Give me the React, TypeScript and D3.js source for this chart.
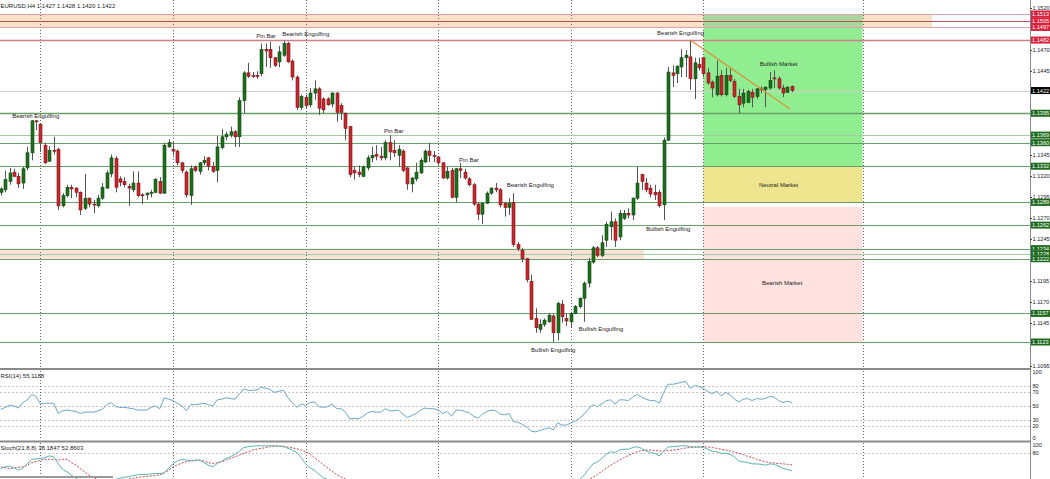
import React from "react";
import * as d3 from "d3";

const W = 1050;
const H = 479;

// ---- OHLC (EURUSD H4), bar 1..180 ----
const opens = [
  1.1301, 1.1304, 1.1314, 1.1325, 1.132, 1.1312, 1.133, 1.1348, 1.1386, 1.1382,
  1.1357, 1.1338, 1.1351, 1.1352, 1.1285, 1.1297, 1.1307, 1.1306, 1.1301, 1.1282,
  1.1294, 1.1287, 1.1285, 1.1294, 1.1306, 1.1323, 1.1341, 1.1317, 1.1314, 1.1308,
  1.1304, 1.1312, 1.1298, 1.1298, 1.13, 1.1301, 1.1314, 1.13, 1.1355, 1.1352,
  1.135, 1.1336, 1.1325, 1.1297, 1.1331, 1.1326, 1.1336, 1.1342, 1.1332, 1.1327,
  1.1354, 1.1367, 1.1369, 1.1373, 1.1367, 1.141, 1.1443, 1.144, 1.144, 1.1442,
  1.1471, 1.1471, 1.1461, 1.1456, 1.1464, 1.1478, 1.1457, 1.1438, 1.1402, 1.1414,
  1.1405, 1.1419, 1.1424, 1.1412, 1.1412, 1.1406, 1.1419, 1.1404, 1.1395, 1.1379,
  1.1327, 1.1325, 1.132, 1.133, 1.1342, 1.1346, 1.1344, 1.1342, 1.136, 1.1351,
  1.1345, 1.135, 1.133, 1.1311, 1.1317, 1.1324, 1.1337, 1.135, 1.1345, 1.1343,
  1.1336, 1.1318, 1.1327, 1.1295, 1.1329, 1.1325, 1.1317, 1.131, 1.1287, 1.1275,
  1.1288, 1.13, 1.1306, 1.1304, 1.1288, 1.1283, 1.1289, 1.1239, 1.1232, 1.1222,
  1.1195, 1.1151, 1.1138, 1.1144, 1.1147, 1.1154, 1.1134, 1.1168, 1.1151, 1.1147,
  1.1157, 1.1165, 1.1175, 1.1193, 1.1218, 1.1235, 1.1226, 1.1244, 1.126, 1.1266,
  1.1248, 1.127, 1.1276, 1.1274, 1.1294, 1.1322, 1.1312, 1.1306, 1.1301, 1.1301,
  1.1286, 1.1363, 1.1443, 1.1442, 1.145, 1.1461, 1.1462, 1.1436, 1.1453, 1.1461,
  1.1443, 1.1432, 1.1417, 1.144, 1.1417, 1.144, 1.1433, 1.1415, 1.1407, 1.1408,
  1.142, 1.1415, 1.1424, 1.1423, 1.1425, 1.1437, 1.1436, 1.1425, 1.142, 1.1427,
];
const highs = [
  1.1307, 1.1327, 1.133, 1.1329, 1.1324, 1.1331, 1.1355, 1.1387, 1.1387, 1.1383,
  1.136, 1.1356, 1.1367, 1.1354, 1.13, 1.131, 1.131, 1.1307, 1.1302, 1.1323,
  1.1295, 1.1292, 1.1298, 1.1312, 1.1327, 1.1346, 1.1344, 1.132, 1.1319, 1.1311,
  1.1326, 1.1326, 1.13, 1.1301, 1.1304, 1.1318, 1.1319, 1.136, 1.1364, 1.1361,
  1.1352, 1.1337, 1.1327, 1.1333, 1.1333, 1.1337, 1.1344, 1.1343, 1.1337, 1.1368,
  1.1376, 1.1373, 1.1379, 1.1375, 1.1414, 1.1445, 1.1455, 1.1444, 1.1445, 1.1478,
  1.1478, 1.148, 1.1462, 1.1475, 1.1481, 1.148, 1.1459, 1.144, 1.1417, 1.1417,
  1.1425, 1.1434, 1.1426, 1.1414, 1.1414, 1.142, 1.142, 1.1407, 1.1396, 1.138,
  1.1332, 1.1333, 1.1333, 1.1345, 1.1355, 1.1357, 1.1355, 1.1363, 1.1369, 1.1363,
  1.1357, 1.1352, 1.1331, 1.1319, 1.1336, 1.1342, 1.1352, 1.136, 1.135, 1.1344,
  1.1337, 1.1331, 1.133, 1.133, 1.1336, 1.1329, 1.1319, 1.1312, 1.1289, 1.1289,
  1.1302, 1.1307, 1.1312, 1.1306, 1.1289, 1.1294, 1.13, 1.1242, 1.1235, 1.1223,
  1.1203, 1.1163, 1.115, 1.1151, 1.1157, 1.1156, 1.1171, 1.1173, 1.1157, 1.1159,
  1.1167, 1.1176, 1.1195, 1.1223, 1.1237, 1.1237, 1.125, 1.1266, 1.1278, 1.127,
  1.128, 1.128, 1.1282, 1.1295, 1.1331, 1.1323, 1.1318, 1.131, 1.131, 1.1304,
  1.1366, 1.145, 1.1452, 1.1452, 1.1471, 1.147, 1.1482, 1.1461, 1.1461, 1.1462,
  1.1449, 1.1434, 1.1458, 1.1446, 1.1449, 1.1448, 1.1436, 1.1424, 1.1424, 1.1423,
  1.1424, 1.1425, 1.1427, 1.1427, 1.1444, 1.1446, 1.1439, 1.1429, 1.1427, 1.1428,
];
const lows = [
  1.1297, 1.1301, 1.131, 1.1319, 1.1306, 1.1305, 1.1327, 1.1339, 1.1375, 1.1349,
  1.1335, 1.1337, 1.1346, 1.128, 1.1283, 1.1295, 1.1294, 1.1295, 1.1274, 1.128,
  1.1283, 1.1276, 1.1283, 1.1292, 1.1305, 1.1319, 1.1301, 1.1308, 1.1307, 1.1285,
  1.1301, 1.1295, 1.1287, 1.1292, 1.1295, 1.13, 1.1299, 1.1299, 1.1354, 1.1345,
  1.1333, 1.1324, 1.1295, 1.1286, 1.1325, 1.1322, 1.1333, 1.1327, 1.1324, 1.1313,
  1.1352, 1.1363, 1.1366, 1.1355, 1.1355, 1.1395, 1.1437, 1.1437, 1.1436, 1.1439,
  1.145, 1.1449, 1.145, 1.145, 1.1462, 1.1455, 1.1434, 1.1399, 1.1399, 1.1401,
  1.1402, 1.1411, 1.1393, 1.1395, 1.1404, 1.1402, 1.1385, 1.1387, 1.1363, 1.1319,
  1.1316, 1.1319, 1.1319, 1.1327, 1.1337, 1.1339, 1.1339, 1.1339, 1.1339, 1.1343,
  1.1331, 1.1325, 1.1304, 1.1301, 1.1314, 1.1323, 1.1336, 1.1337, 1.1337, 1.1333,
  1.1317, 1.1316, 1.1294, 1.1289, 1.1318, 1.1316, 1.1308, 1.1285, 1.1268, 1.1263,
  1.1287, 1.1298, 1.1301, 1.1283, 1.1272, 1.1274, 1.1236, 1.1231, 1.1218, 1.1194,
  1.1149, 1.1134, 1.1134, 1.1141, 1.1146, 1.1123, 1.1125, 1.1146, 1.1142, 1.114,
  1.1156, 1.1163, 1.1147, 1.1188, 1.1216, 1.1224, 1.1224, 1.1236, 1.1244, 1.1236,
  1.1244, 1.1268, 1.127, 1.1268, 1.1292, 1.1304, 1.1301, 1.1295, 1.1292, 1.1283,
  1.1268, 1.1362, 1.1426, 1.1431, 1.1438, 1.1438, 1.1423, 1.1412, 1.1446, 1.1438,
  1.1429, 1.1414, 1.1415, 1.1415, 1.1415, 1.1432, 1.1413, 1.1395, 1.1402, 1.1407,
  1.1402, 1.1412, 1.1419, 1.1402, 1.1423, 1.1425, 1.1423, 1.1414, 1.1419, 1.142,
];
const closes = [
  1.1305, 1.1316, 1.1324, 1.132, 1.1311, 1.1329, 1.1348, 1.1386, 1.1385, 1.136,
  1.1336, 1.1351, 1.135, 1.1285, 1.1297, 1.1307, 1.1305, 1.1301, 1.128, 1.1294,
  1.1287, 1.1286, 1.1294, 1.1307, 1.1324, 1.1342, 1.1307, 1.1313, 1.131, 1.1306,
  1.1312, 1.1297, 1.1297, 1.13, 1.1301, 1.1316, 1.13, 1.1357, 1.136, 1.135,
  1.1336, 1.1327, 1.1298, 1.1329, 1.1327, 1.1336, 1.1339, 1.1332, 1.1326, 1.1355,
  1.1367, 1.137, 1.1373, 1.1367, 1.141, 1.1443, 1.1439, 1.1439, 1.1439, 1.1471,
  1.1469, 1.1461, 1.1452, 1.1468, 1.1478, 1.1456, 1.1438, 1.1402, 1.1415, 1.1404,
  1.1419, 1.1424, 1.1401, 1.1399, 1.1405, 1.1419, 1.1396, 1.1396, 1.1377, 1.1322,
  1.1324, 1.1322, 1.1331, 1.1342, 1.1345, 1.1344, 1.1342, 1.136, 1.1349, 1.1348,
  1.1352, 1.1327, 1.1311, 1.1318, 1.1325, 1.1339, 1.135, 1.1345, 1.1344, 1.1336,
  1.1318, 1.1326, 1.1295, 1.1329, 1.1327, 1.1318, 1.131, 1.1287, 1.1275, 1.1288,
  1.13, 1.1306, 1.1304, 1.1286, 1.1283, 1.1288, 1.1239, 1.1234, 1.1222, 1.1197,
  1.115, 1.114, 1.1144, 1.1149, 1.1155, 1.1134, 1.1169, 1.1153, 1.1148, 1.1157,
  1.1165, 1.1175, 1.1193, 1.1219, 1.1235, 1.1226, 1.1241, 1.1263, 1.1266, 1.1244,
  1.1276, 1.1276, 1.1274, 1.1294, 1.1312, 1.1314, 1.1304, 1.1299, 1.1298, 1.1285,
  1.1363, 1.1444, 1.144, 1.1451, 1.1461, 1.1464, 1.1436, 1.1455, 1.1449, 1.1442,
  1.1431, 1.1425, 1.1439, 1.1417, 1.144, 1.1434, 1.1415, 1.1405, 1.1419, 1.1421,
  1.1414, 1.1424, 1.1423, 1.1426, 1.1434, 1.1436, 1.1425, 1.1419, 1.1426, 1.1422,
];

// ---- RSI(14) ----
const rsiValues = [
  45, 48, 51, 50, 47, 55, 59, 67, 64, 53, 54, 54, 54, 39, 43, 44, 43, 42, 39, 41,
  41, 41, 43, 45, 52, 55, 49, 48, 48, 47, 46, 44, 44, 44, 48, 50, 46, 62, 60, 58,
  54, 50, 43, 52, 52, 53, 54, 52, 50, 59, 60, 62, 61, 60, 68, 75, 73, 73, 74, 78,
  76, 74, 70, 72, 73, 62, 55, 48, 53, 51, 55, 56, 49, 48, 49, 53, 46, 46, 41, 31,
  32, 31, 35, 40, 42, 41, 41, 46, 43, 43, 44, 38, 33, 36, 39, 44, 47, 46, 46, 44,
  39, 42, 35, 44, 44, 42, 40, 35, 32, 38, 42, 44, 43, 38, 37, 39, 27, 26, 23, 19,
  13, 12, 14, 16, 18, 15, 25, 22, 22, 25, 28, 32, 38, 46, 52, 49, 53, 58, 59, 53,
  59, 59, 58, 63, 67, 63, 60, 58, 58, 54, 70, 82, 82, 83, 85, 86, 76, 80, 79, 76,
  71, 68, 72, 65, 70, 67, 60, 56, 60, 61, 58, 61, 60, 61, 64, 63, 58, 55, 57, 55.12,
];

// ---- Stochastic(21,8,8) ----
const stochMain = [
  44, 48, 50, 46, 40, 45, 55, 66, 67, 68, 70, 74, 72, 56, 42, 36, 28, 21, 14, 10,
  8, 6, 6, 8, 10, 14, 18, 21, 23, 25, 27, 29, 30, 30, 31, 32, 32, 34, 45, 56,
  62, 66, 64, 63, 64, 64, 58, 52, 48, 56, 62, 68, 72, 78, 85, 94, 96, 97, 98, 98,
  98, 98, 98, 97, 96, 92, 88, 82, 70, 55, 45, 40, 30, 22, 18, 14, 12, 10, 8, 5,
  4, 5, 8, 12, 14, 14, 13, 15, 14, 12, 12, 10, 6, 6, 8, 12, 14, 14, 13, 12,
  10, 10, 6, 10, 11, 10, 8, 5, 3, 5, 8, 10, 10, 8, 6, 7, 3, 2, 2, 2,
  1, 2, 3, 4, 5, 4, 9, 8, 8, 10, 12, 18, 28, 42, 55, 60, 68, 78, 84, 82,
  88, 90, 90, 94, 96, 92, 86, 82, 80, 74, 85, 95, 96, 97, 98, 98, 96, 95, 95, 94,
  90, 85, 84, 80, 80, 78, 72, 62, 60, 58, 55, 55, 54, 52, 55, 54, 50, 44, 42, 38.18,
];
const stochSignal = [
  48, 46, 44, 45, 47, 48, 52, 58, 61, 64, 66, 66, 65, 64, 66, 66, 58, 52, 44, 36,
  28, 22, 18, 17, 15, 14, 14, 15, 17, 19, 21, 23, 24, 25, 26, 27, 29, 33, 40, 48,
  53, 57, 60, 62, 63, 64, 62, 58, 56, 58, 60, 64, 68, 72, 76, 80, 84, 88, 90, 92,
  94, 96, 97, 98, 97, 95, 93, 91, 88, 84, 78, 70, 62, 53, 45, 37, 30, 24, 19, 15,
  12, 10, 9, 9, 9, 10, 11, 12, 13, 13, 13, 13, 12, 11, 10, 10, 10, 11, 11, 12,
  12, 12, 11, 11, 10, 10, 10, 9, 8, 7, 7, 7, 8, 8, 8, 8, 7, 6, 5, 4,
  3, 3, 3, 3, 3, 3, 4, 5, 6, 7, 10, 11, 13, 17, 23, 30, 37, 45, 52, 58,
  64, 70, 75, 80, 84, 87, 88, 88, 87, 86, 86, 87, 88, 89, 91, 93, 94, 95, 96, 96,
  95, 94, 92, 90, 88, 86, 83, 80, 77, 73, 70, 66, 63, 60, 58, 57, 56, 55, 54, 52.86,
];

// ---- annotations ----
const gridBars = [10, 40, 70, 100, 130, 160, 196];
const priceTicks = [1.152, 1.147, 1.1445, 1.1345, 1.132, 1.1295, 1.127, 1.1245, 1.1195, 1.117, 1.1145, 1.1095];
const redLevels = [1.1513, 1.1505, 1.1497, 1.1482];
const greenLevels = [1.1395, 1.1369, 1.136, 1.1332, 1.1289, 1.1262, 1.1234, 1.1228, 1.1222, 1.1157, 1.1123];
const bidPrice = 1.1422;
const rsiLevels = [80, 70, 50, 30, 20];
const rsiTicks = [100, 80, 70, 50, 30, 20, 0];
const stochLevels = [80, 20];
const stochTicks = [100, 80];

const patternLabels = [
  { bar: 3.6, price: 1.1392, text: "Bearish Engulfing" },
  { bar: 58.8, price: 1.1487, text: "Pin Bar" },
  { bar: 64.7, price: 1.1489, text: "Bearish Engulfing" },
  { bar: 87.7, price: 1.1374, text: "Pin Bar" },
  { bar: 104.7, price: 1.1339, text: "Pin Bar" },
  { bar: 115.5, price: 1.131, text: "Bearish Engulfing" },
  { bar: 121, price: 1.1113, text: "Bullish Engulfing" },
  { bar: 131.8, price: 1.1139, text: "Bullish Engulfing" },
  { bar: 147, price: 1.1257, text: "Bullish Engulfing" },
  { bar: 149.5, price: 1.149, text: "Bearish Engulfing" },
];
const zoneLabels = [
  { bar: 177, price: 1.1454, text: "Bullish Market" },
  { bar: 177, price: 1.131, text: "Neutral Market" },
  { bar: 177.8, price: 1.1193, text: "Bearish Market" },
];
const zones = [
  { from: 160, to: 196, top: 1.1513, bottom: 1.1332, fill: "#90ee90" },
  { from: 160, to: 196, top: 1.1332, bottom: 1.1289, fill: "#eee58e" },
  { from: 160, to: 196, top: 1.12835, bottom: 1.1123, fill: "#ffe2df" },
];
const resistanceBand = { from: 0.8, to: 211.7, top: 1.1513, bottom: 1.1497 };
const supportBand = { from: 0.8, to: 146.8, top: 1.1234, bottom: 1.1222 };
const trendLine = { bar1: 157, p1: 1.1482, bar2: 179.6, p2: 1.14 };

const FONT = "'Liberation Sans', Arial, sans-serif";

export default function App() {
  const n = closes.length;
  const x = d3.scaleLinear().domain([1, 180]).range([0.7, 0.7 + 179 * 4.42]);
  const y = d3.scaleLinear().domain([1.1123, 1.1513]).range([342, 14]);
  const yR = d3.scaleLinear().domain([0, 100]).range([440, 372]);
  const yS = d3.scaleLinear().domain([0, 100]).range([487, 445]);
  const axisX = 1030.5;

  const rsiLine = d3
    .line<number>()
    .x((_, i) => x(i + 1))
    .y((d) => yR(d));
  const stLine = d3
    .line<number>()
    .x((_, i) => x(i + 1))
    .y((d) => yS(d));

  const bars = d3.range(n).map((i) => ({
    i: i + 1,
    o: opens[i],
    h: highs[i],
    l: lows[i],
    c: closes[i],
  }));

  const r = (v: number) => Math.round(v) + 0.5;
  const lblFs = 5.6;

  return (
    <svg
      width={W}
      height={H}
      style={{ position: "fixed", left: 0, top: 0, background: "#fff" }}
      fontFamily={FONT}
    >
      <defs>
        <clipPath id="main">
          <rect x={0} y={0} width={axisX} height={368} />
        </clipPath>
        <clipPath id="rsi">
          <rect x={0} y={371} width={axisX} height={69} />
        </clipPath>
        <clipPath id="sto">
          <rect x={0} y={443} width={axisX} height={40} />
        </clipPath>
      </defs>
      <rect x={0} y={0} width={W} height={H} fill="#fff" />

      <g clipPath="url(#main)">
        <rect
          x={x(resistanceBand.from)}
          y={y(resistanceBand.top)}
          width={x(resistanceBand.to) - x(resistanceBand.from)}
          height={y(resistanceBand.bottom) - y(resistanceBand.top)}
          fill="#fde0c6"
        />
        <rect
          x={x(supportBand.from) - 1}
          y={y(supportBand.top)}
          width={x(supportBand.to) - x(supportBand.from)}
          height={y(supportBand.bottom) - y(supportBand.top)}
          fill="#fbe3d6"
        />
        {zones.map((z, k) => (
          <rect
            key={k}
            x={x(z.from)}
            y={y(z.top)}
            width={x(z.to) - x(z.from)}
            height={y(z.bottom) - y(z.top)}
            fill={z.fill}
          />
        ))}
        <rect
          x={x(zones[0].from)}
          y={y(resistanceBand.top)}
          width={x(zones[0].to) - x(zones[0].from)}
          height={y(resistanceBand.bottom) - y(resistanceBand.top)}
          fill="#a9d69d"
        />

        {gridBars.map((b) => (
          <line
            key={b}
            x1={r(x(b))}
            x2={r(x(b))}
            y1={0}
            y2={368}
            stroke="#666"
            strokeDasharray="1,2"
          />
        ))}

        {redLevels.map((p, k) => (
          <line
            key={p}
            x1={0}
            x2={axisX}
            y1={r(y(p))}
            y2={r(y(p))}
            stroke={k === 1 ? "#b8515a" : k === 3 ? "#cf7f8a" : "#e3a2aa"}
            strokeWidth={k === 3 ? 1.4 : 1}
          />
        ))}
        <line x1={0} x2={axisX} y1={r(y(bidPrice))} y2={r(y(bidPrice))} stroke="#cfcfcf" />
        {greenLevels.map((p, k) => (
          <line
            key={p}
            x1={0}
            x2={axisX}
            y1={r(y(p))}
            y2={r(y(p))}
            stroke={k === 1 || k === 7 ? "#a6c9a6" : "#69a069"}
            strokeWidth={k === 0 ? 1.6 : 1.2}
          />
        ))}

        {bars.map((b) => {
          const cx = r(x(b.i)) - 0.5;
          const up = b.c >= b.o;
          const top = y(Math.max(b.o, b.c));
          const bot = y(Math.min(b.o, b.c));
          return (
            <g key={b.i}>
              <line x1={cx + 0.5} x2={cx + 0.5} y1={y(b.h)} y2={y(b.l)} stroke="#555" strokeWidth={1} />
              <rect
                x={cx - 1}
                y={top}
                width={3}
                height={Math.max(1, bot - top)}
                fill={up ? "#1d6e1d" : "#c8262c"}
                stroke={up ? "#0f4a0f" : "#7a1418"}
                strokeWidth={0.6}
              />
            </g>
          );
        })}

        <line
          x1={x(trendLine.bar1)}
          y1={y(trendLine.p1)}
          x2={x(trendLine.bar2)}
          y2={y(trendLine.p2)}
          stroke="#dc8c3c"
          strokeWidth={1.2}
        />

        {patternLabels.map((l, k) => (
          <text key={k} x={x(l.bar)} y={y(l.price) + 2} fontSize={6} fill="#222">
            {l.text}
          </text>
        ))}
        {zoneLabels.map((l, k) => (
          <text key={k} x={x(l.bar)} y={y(l.price) + 2} fontSize={6} fill="#222" textAnchor="middle">
            {l.text}
          </text>
        ))}
        <text x={0.5} y={7.5} fontSize={6} fill="#222">
          EURUSD,H4  1.1427 1.1428 1.1420 1.1422
        </text>
      </g>

      <g clipPath="url(#rsi)">
        {rsiLevels.map((v) => (
          <line key={v} x1={0} x2={axisX} y1={r(yR(v))} y2={r(yR(v))} stroke="#c4c4c4" strokeDasharray="2,2" />
        ))}
        {gridBars.map((b) => (
          <line key={b} x1={r(x(b))} x2={r(x(b))} y1={371} y2={441} stroke="#666" strokeDasharray="1,2" />
        ))}
        <path d={rsiLine(rsiValues) || ""} fill="none" stroke="#6aa6cc" strokeWidth={1} />
        <text x={0.5} y={377.5} fontSize={6} fill="#222">
          RSI(14) 55.1188
        </text>
      </g>

      <g clipPath="url(#sto)">
        {stochLevels.map((v) => (
          <line key={v} x1={0} x2={axisX} y1={r(yS(v))} y2={r(yS(v))} stroke="#c4c4c4" strokeDasharray="2,2" />
        ))}
        {gridBars.map((b) => (
          <line key={b} x1={r(x(b))} x2={r(x(b))} y1={443} y2={H} stroke="#666" strokeDasharray="1,2" />
        ))}
        <path d={stLine(stochSignal) || ""} fill="none" stroke="#c8484c" strokeWidth={1} strokeDasharray="2,1.5" />
        <path d={stLine(stochMain) || ""} fill="none" stroke="#5db3b3" strokeWidth={1} />
        <text x={0.5} y={450} fontSize={6} fill="#222">
          Stoch(21,8,8) 38.1847 52.8603
        </text>
        <rect x={0} y={476} width={113} height={2} fill="#9a9a9a" />
      </g>

      <rect x={0} y={368} width={axisX} height={2} fill="#8a8a8a" />
      <rect x={0} y={440.5} width={axisX} height={2} fill="#8a8a8a" />
      <line x1={axisX} x2={axisX} y1={0} y2={H} stroke="#8a8a8a" />

      {priceTicks.map((p) => (
        <g key={p}>
          <line x1={axisX} x2={axisX + 1.5} y1={r(y(p))} y2={r(y(p))} stroke="#333" />
          <text x={axisX + 2} y={Math.max(y(p), 6) + 2} fontSize={lblFs} fill="#222">
            {p.toFixed(4)}
          </text>
        </g>
      ))}
      {redLevels.map((p) => (
        <g key={p}>
          <rect x={axisX + 0.5} y={y(p) - 3.5} width={20} height={7} fill="#d8203c" />
          <text x={axisX + 1.5} y={y(p) + 2} fontSize={lblFs} fill="#fff">
            {p.toFixed(4)}
          </text>
        </g>
      ))}
      {greenLevels.map((p) => (
        <g key={p}>
          <rect x={axisX + 0.5} y={y(p) - 3.5} width={20} height={7} fill="#1f6b1f" />
          <text x={axisX + 1.5} y={y(p) + 2} fontSize={lblFs} fill="#fff">
            {p.toFixed(4)}
          </text>
        </g>
      ))}
      <rect x={axisX + 0.5} y={y(bidPrice) - 3.5} width={20} height={7} fill="#000" />
      <text x={axisX + 1.5} y={y(bidPrice) + 2} fontSize={lblFs} fill="#fff">
        {bidPrice.toFixed(4)}
      </text>

      {rsiTicks.map((v) => (
        <text key={v} x={axisX + 2} y={Math.min(yR(v), 437.5) + 2} fontSize={lblFs} fill="#222">
          {v}
        </text>
      ))}
      {stochTicks.map((v) => (
        <text key={v} x={axisX + 2} y={yS(v) + 2} fontSize={lblFs} fill="#222">
          {v}
        </text>
      ))}
    </svg>
  );
}
